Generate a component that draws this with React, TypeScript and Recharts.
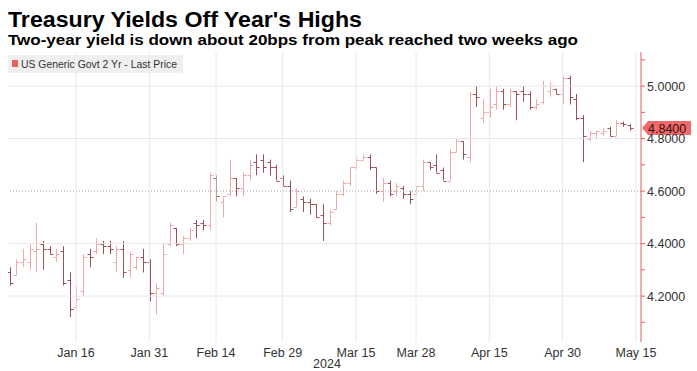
import React from 'react';
import { ComposedChart, Bar, XAxis, YAxis, ReferenceLine } from 'recharts';

// ---------- data ----------
const dates = [
  'Dec 29',
  'Jan 2', 'Jan 3', 'Jan 4', 'Jan 5', 'Jan 8', 'Jan 9', 'Jan 10', 'Jan 11', 'Jan 12', 'Jan 16',
  'Jan 17', 'Jan 18', 'Jan 19', 'Jan 22', 'Jan 23', 'Jan 24', 'Jan 25', 'Jan 26', 'Jan 29', 'Jan 30', 'Jan 31',
  'Feb 1', 'Feb 2', 'Feb 5', 'Feb 6', 'Feb 7', 'Feb 8', 'Feb 9', 'Feb 12', 'Feb 13', 'Feb 14',
  'Feb 15', 'Feb 16', 'Feb 20', 'Feb 21', 'Feb 22', 'Feb 23', 'Feb 26', 'Feb 27', 'Feb 28', 'Feb 29',
  'Mar 1', 'Mar 4', 'Mar 5', 'Mar 6', 'Mar 7', 'Mar 8', 'Mar 11', 'Mar 12', 'Mar 13', 'Mar 14',
  'Mar 15', 'Mar 18', 'Mar 19', 'Mar 20', 'Mar 21', 'Mar 22', 'Mar 25', 'Mar 26', 'Mar 27', 'Mar 28',
  'Apr 1', 'Apr 2', 'Apr 3', 'Apr 4', 'Apr 5', 'Apr 8', 'Apr 9', 'Apr 10', 'Apr 11', 'Apr 12',
  'Apr 15', 'Apr 16', 'Apr 17', 'Apr 18', 'Apr 19', 'Apr 22', 'Apr 23', 'Apr 24', 'Apr 25', 'Apr 26',
  'Apr 29', 'Apr 30', 'May 1', 'May 2', 'May 3', 'May 6', 'May 7', 'May 8', 'May 9', 'May 10',
  'May 13', 'May 14',
];

const open = [
  4.29,
  4.28, 4.33, 4.33, 4.37, 4.40, 4.38, 4.35, 4.37, 4.26, 4.16,
  4.22, 4.36, 4.37, 4.40, 4.39, 4.33, 4.38, 4.30, 4.31, 4.35, 4.33,
  4.21, 4.21, 4.40, 4.46, 4.40, 4.42, 4.48, 4.48, 4.47, 4.65,
  4.56, 4.59, 4.65, 4.61, 4.66, 4.71, 4.72, 4.71, 4.69, 4.65,
  4.62, 4.54, 4.57, 4.56, 4.55, 4.51, 4.48, 4.53, 4.59, 4.63,
  4.69, 4.72, 4.73, 4.69, 4.60, 4.63, 4.60, 4.61, 4.59, 4.59,
  4.62, 4.71, 4.70, 4.68, 4.64, 4.75, 4.79, 4.73, 4.97, 4.88,
  4.90, 4.93, 4.98, 4.93, 4.98, 4.98, 4.97, 4.92, 4.94, 4.98,
  4.99, 4.97, 5.03, 4.95, 4.88, 4.80, 4.82, 4.82, 4.84, 4.81,
  4.86, 4.85,
];

const high = [
  4.31,
  4.34, 4.38, 4.40, 4.48, 4.41, 4.39, 4.38, 4.39, 4.29, 4.24,
  4.36, 4.38, 4.42, 4.41, 4.41, 4.39, 4.41, 4.37, 4.35, 4.38, 4.34,
  4.25, 4.40, 4.48, 4.46, 4.43, 4.46, 4.49, 4.49, 4.67, 4.66,
  4.58, 4.72, 4.65, 4.67, 4.72, 4.74, 4.74, 4.72, 4.70, 4.66,
  4.64, 4.61, 4.58, 4.57, 4.55, 4.55, 4.53, 4.60, 4.64, 4.69,
  4.73, 4.74, 4.74, 4.69, 4.65, 4.64, 4.63, 4.62, 4.60, 4.62,
  4.72, 4.71, 4.74, 4.69, 4.76, 4.80, 4.79, 4.98, 5.00, 4.95,
  4.99, 5.00, 4.99, 4.99, 4.98, 5.00, 4.98, 4.95, 5.02, 5.015,
  4.99, 5.04, 5.04, 4.97, 4.89, 4.83, 4.83, 4.84, 4.845, 4.87,
  4.865, 4.855,
];

const low = [
  4.24,
  4.28, 4.31, 4.30, 4.29, 4.30, 4.36, 4.33, 4.24, 4.12, 4.15,
  4.20, 4.31, 4.36, 4.36, 4.36, 4.29, 4.27, 4.27, 4.30, 4.29, 4.18,
  4.13, 4.20, 4.39, 4.39, 4.36, 4.41, 4.42, 4.45, 4.45, 4.56,
  4.50, 4.58, 4.58, 4.58, 4.64, 4.66, 4.67, 4.66, 4.64, 4.62,
  4.52, 4.54, 4.52, 4.51, 4.50, 4.41, 4.47, 4.53, 4.58, 4.62,
  4.68, 4.72, 4.68, 4.59, 4.56, 4.58, 4.58, 4.57, 4.55, 4.59,
  4.60, 4.68, 4.67, 4.64, 4.64, 4.75, 4.72, 4.71, 4.92, 4.86,
  4.88, 4.91, 4.91, 4.92, 4.87, 4.94, 4.91, 4.91, 4.93, 4.96,
  4.97, 4.93, 4.93, 4.87, 4.71, 4.79, 4.80, 4.81, 4.81, 4.81,
  4.845, 4.83,
];

const close = [
  4.25,
  4.33, 4.34, 4.38, 4.38, 4.38, 4.36, 4.36, 4.25, 4.15, 4.19,
  4.35, 4.35, 4.40, 4.39, 4.38, 4.38, 4.29, 4.36, 4.35, 4.33, 4.21,
  4.23, 4.36, 4.47, 4.40, 4.42, 4.45, 4.47, 4.47, 4.66, 4.58,
  4.58, 4.65, 4.61, 4.66, 4.70, 4.69, 4.69, 4.69, 4.64, 4.62,
  4.53, 4.60, 4.56, 4.55, 4.50, 4.48, 4.52, 4.59, 4.63, 4.69,
  4.72, 4.73, 4.69, 4.60, 4.63, 4.59, 4.62, 4.59, 4.57, 4.62,
  4.71, 4.69, 4.67, 4.64, 4.75, 4.79, 4.74, 4.97, 4.96, 4.90,
  4.92, 4.98, 4.93, 4.98, 4.97, 4.97, 4.92, 4.93, 5.00, 5.00,
  4.97, 5.03, 4.96, 4.88, 4.81, 4.82, 4.83, 4.83, 4.81, 4.86,
  4.855, 4.84,
];

const xTickLabels = ['Jan 16', 'Jan 31', 'Feb 14', 'Feb 29', 'Mar 15', 'Mar 28', 'Apr 15', 'Apr 30', 'May 15'];
const axisDays = [...dates, 'May 15'];
const yearLabel = '2024';
const yLabelTicks = [4.2, 4.4, 4.6, 4.8, 5.0];
const yMinorTicks = [4.1, 4.3, 4.5, 4.7, 4.9, 5.1];
const gridSolidY = [4.2, 4.4, 4.8, 5.0];
const gridDottedY = [4.6];
const lastPrice = 4.84;
const seriesName = 'US Generic Govt 2 Yr - Last Price';
const title = "Treasury Yields Off Year's Highs";
const subtitle = 'Two-year yield is down about 20bps from peak reached two weeks ago';

// ---------- styles ----------
const W = 697;
const H = 371;
const UP = '#f0a9ab';
const DOWN = '#9c4f5b';
const AXIS_RED = '#e0605f';
const FONT = '"Liberation Sans", Arial, sans-serif';

const rows = dates.map((d, i) => ({
  i,
  date: d,
  open: open[i],
  high: high[i],
  low: low[i],
  close: close[i],
  range: [low[i], high[i]],
}));

const xTickIdx = xTickLabels.map((l) => axisDays.indexOf(l));
const yAllTicks = [...yLabelTicks, ...yMinorTicks].sort((a, b) => a - b);

const OHLC = (props: any) => {
  const { x, y, width, height, payload } = props;
  if (x == null || y == null || !payload) return null;
  const cx = Math.round(x + width / 2) + 0.5;
  const span = payload.high - payload.low;
  const py = (v: number) => (span > 0 ? y + ((payload.high - v) / span) * height : y);
  const color = payload.close >= payload.open ? UP : DOWN;
  const yo = Math.round(py(payload.open)) + 0.5;
  const yc = Math.round(py(payload.close)) + 0.5;
  return (
    <g>
      <line x1={cx} x2={cx} y1={y} y2={y + Math.max(height, 1)} stroke={color} strokeWidth={1} />
      <line x1={cx - 3} x2={cx} y1={yo} y2={yo} stroke={color} strokeWidth={1} />
      <line x1={cx} x2={cx + 3} y1={yc} y2={yc} stroke={color} strokeWidth={1} />
    </g>
  );
};

const YTick = (props: any) => {
  const { x, y, payload } = props;
  const v = payload.value;
  const isMajor = yLabelTicks.some((t) => Math.abs(t - v) < 1e-6);
  if (!isMajor) return null;
  return (
    <text x={x} y={y} dy={4.5} textAnchor="start" fill="#333" fontSize={12.5} fontFamily={FONT}>
      {v.toFixed(4)}
    </text>
  );
};

const XTick = (props: any) => {
  const { x, y, payload } = props;
  return (
    <text x={x} y={y} dy={7} textAnchor="middle" fill="#333" fontSize={12.5} fontFamily={FONT}>
      {axisDays[payload.value]}
    </text>
  );
};

const Flag = (props: any) => {
  const vb = props.viewBox || {};
  const xr = (vb.x || 0) + (vb.width || 0);
  const yc = vb.y || 0;
  const pts = `${xr + 1},${yc} ${xr + 7},${yc - 7} ${xr + 50},${yc - 7} ${xr + 50},${yc + 7} ${xr + 7},${yc + 7}`;
  return (
    <g>
      <polygon points={pts} fill="#ef6b6b" />
      <text x={xr + 7} y={yc} dy={4.5} fill="#3a0a0a" fontSize={12.5} fontFamily={FONT}>
        {lastPrice.toFixed(4)}
      </text>
    </g>
  );
};

export default function App() {
  return (
    <div style={{ position: 'absolute', left: 0, top: 0, width: W, height: H, background: '#fff', overflow: 'hidden' }}>
      <ComposedChart
        width={W}
        height={H}
        data={rows}
        margin={{ top: 52, right: 0, bottom: 0, left: 8 }}
        style={{ position: 'absolute', left: 0, top: 0 }}
      >
        <XAxis
          type="number"
          dataKey="i"
          domain={[-0.2, 94.75]}
          allowDataOverflow
          ticks={xTickIdx}
          tick={<XTick />}
          axisLine={false}
          tickLine={false}
          height={29}
          interval={0}
        />
        <YAxis
          orientation="right"
          type="number"
          domain={[4.025, 5.13]}
          allowDataOverflow
          ticks={yAllTicks}
          interval={0}
          width={56}
          axisLine={{ stroke: AXIS_RED, strokeWidth: 1 }}
          tickLine={{ stroke: AXIS_RED, strokeWidth: 1 }}
          tickSize={4}
          tickMargin={2}
          tick={<YTick />}
        />
        {xTickIdx.map((t) => (
          <ReferenceLine key={'vx' + t} x={t} stroke="#e8e8e8" strokeWidth={1} />
        ))}
        {gridSolidY.map((v) => (
          <ReferenceLine key={'gy' + v} y={v} stroke="#e6e6e6" strokeWidth={1} />
        ))}
        {gridDottedY.map((v) => (
          <ReferenceLine key={'dy' + v} y={v} stroke="#a8a8a8" strokeWidth={1} strokeDasharray="1 2" />
        ))}
        <Bar dataKey="range" barSize={5} shape={(p: any) => <OHLC {...p} />} isAnimationActive={false} />
        <ReferenceLine y={lastPrice} stroke="none" ifOverflow="visible" label={(p: any) => <Flag {...p} />} />
      </ComposedChart>

      <svg width={W} height={50} style={{ position: 'absolute', left: 0, top: 0 }}>
        <text x={8} y={27} fontSize={22} fontWeight="bold" fontFamily={FONT} fill="#000" textLength={354} lengthAdjust="spacingAndGlyphs">
          {title}
        </text>
        <text x={8} y={45} fontSize={15.5} fontWeight="bold" fontFamily={FONT} fill="#000" textLength={570} lengthAdjust="spacingAndGlyphs">
          {subtitle}
        </text>
      </svg>

      <svg width={W} height={H} style={{ position: 'absolute', left: 0, top: 0, pointerEvents: 'none' }}>
        <rect x={8} y={55} width={175} height={18} fill="#efefef" />
        <rect x={12} y={60} width={6} height={7} fill="#e8605f" />
        <text x={21} y={68} fontSize={11} fontFamily={FONT} fill="#333" textLength={156} lengthAdjust="spacingAndGlyphs">
          {seriesName}
        </text>
        <text x={327} y={368} textAnchor="middle" fontSize={12.5} fontFamily={FONT} fill="#333">
          {yearLabel}
        </text>
      </svg>
    </div>
  );
}
